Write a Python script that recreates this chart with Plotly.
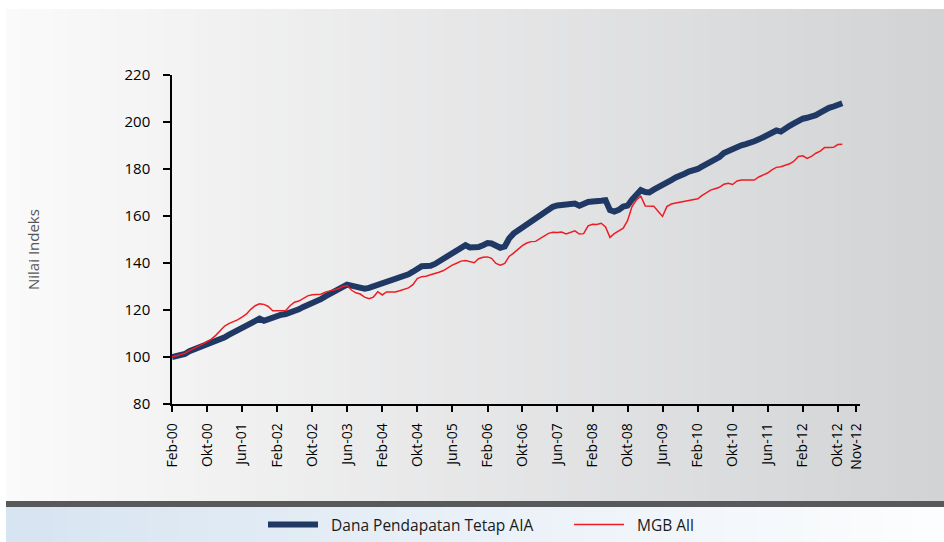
import plotly.graph_objects as go
import pandas as pd

# ---------------- data ----------------
dates = pd.date_range("2000-02-01", periods=154, freq="MS")

dana_aia = [
    100.0, 100.3, 100.6, 101.3, 102.5, 103.2, 103.6, 104.2, 105.0, 105.8,
    106.8, 107.6, 108.4, 109.4, 110.3, 111.3, 112.4, 113.2, 114.0, 115.2,
    116.3, 115.4, 116.2, 117.0, 117.6, 118.0, 118.3, 118.8, 119.4, 120.3,
    121.3, 122.0, 122.6, 123.7, 124.6, 125.8, 126.8, 128.0, 129.4, 130.3,
    130.8, 130.4, 130.0, 129.6, 129.1, 129.4, 130.0, 130.7, 131.4, 132.1,
    132.9, 133.4, 133.9, 134.6, 135.2, 136.3, 137.4, 138.6, 138.7, 138.8,
    139.6, 140.7, 141.8, 143.0, 144.4, 145.5, 146.8, 147.6, 146.6, 146.5,
    146.8, 147.6, 148.5, 148.3, 147.3, 146.5, 147.0, 150.4, 152.5, 153.8,
    155.0, 156.3, 157.5, 159.0, 160.5, 161.9, 163.0, 163.9, 164.5, 164.6,
    164.6, 164.9, 165.3, 164.4, 165.3, 166.0, 166.2, 166.1, 166.5, 166.7,
    162.5, 161.9, 162.6, 164.0, 164.4, 167.0, 169.5, 171.0, 170.2, 170.0,
    171.2, 172.2, 172.6, 174.0, 175.3, 176.4, 177.0, 178.0, 178.9, 179.3,
    180.0, 181.0, 182.0, 183.0, 184.0, 185.1, 186.8, 187.8, 188.7, 189.5,
    190.1, 190.6, 190.9, 191.8, 192.6, 193.6, 194.7, 195.6, 196.4, 195.9,
    197.5, 198.4, 199.4, 200.6, 201.4, 201.8, 202.3, 202.9, 204.0, 205.3,
    206.0, 206.6, 207.3, 208.0,
]

mgb_all = [
    100.0, 100.5, 101.0, 101.6, 102.7, 103.6, 104.4, 105.5, 106.6, 107.6,
    109.2, 111.2, 113.2, 114.2, 114.9, 115.8, 117.0, 118.2, 120.3, 121.8,
    122.6, 122.4, 121.5, 119.7, 119.7, 119.7, 119.8, 121.8, 123.3, 123.8,
    124.8, 126.0, 126.5, 126.6, 126.7, 127.6, 128.0, 128.5, 129.0, 130.0,
    130.4, 128.5, 127.3, 126.8, 125.5, 124.8, 125.5, 127.8, 126.4, 127.7,
    127.6, 127.7, 128.2, 128.8, 129.4, 130.8, 133.4, 134.2, 134.4, 135.0,
    135.5, 136.1, 136.8, 138.0, 139.1, 139.9, 140.8, 141.1, 140.6, 140.1,
    141.8, 142.4, 142.6, 142.0, 139.8, 139.1, 139.8, 142.8, 144.2, 145.8,
    147.4, 148.5, 149.1, 149.2, 150.2, 151.4, 152.6, 153.1, 153.0, 153.2,
    152.4, 153.0, 153.7, 152.3, 152.5, 155.8, 156.5, 156.4, 156.9, 155.3,
    150.9, 152.5, 153.6, 154.8, 158.0, 164.0, 166.8, 168.4, 164.3, 164.3,
    164.2, 162.0, 159.8, 164.0, 165.1, 165.5, 165.8, 166.3, 166.4, 167.0,
    167.3, 168.7, 170.0, 171.0, 171.6, 172.2, 173.5, 173.9, 173.4, 174.9,
    175.3, 175.3, 175.3, 175.3, 176.6, 177.4, 178.3, 179.6, 180.7, 181.0,
    181.5, 182.2, 183.3, 185.3, 185.6, 184.5, 185.4, 186.7, 187.6, 189.1,
    189.1, 189.2, 190.4, 190.5,
]

tick_labels = ["Feb-00", "Okt-00", "Jun-01", "Feb-02", "Okt-02", "Jun-03",
               "Feb-04", "Okt-04", "Jun-05", "Feb-06", "Okt-06", "Jun-07",
               "Feb-08", "Okt-08", "Jun-09", "Feb-10", "Okt-10", "Jun-11",
               "Feb-12", "Okt-12", "Nov-12"]
tick_dates = ["2000-02-01", "2000-10-01", "2001-06-01", "2002-02-01", "2002-10-01",
              "2003-06-01", "2004-02-01", "2004-10-01", "2005-06-01", "2006-02-01",
              "2006-10-01", "2007-06-01", "2008-02-01", "2008-10-01", "2009-06-01",
              "2010-02-01", "2010-10-01", "2011-06-01", "2012-02-01", "2012-10-01",
              "2013-02-06"]

series_names = ["\u00a0\u00a0Dana Pendapatan Tetap AIA", "\u00a0\u00a0MGB All"]
y_title = "Nilai Indeks"

# ---------------- layout geometry ----------------
W, H = 944, 542
L, R, T, B = 172, 860, 75, 404  # plot area in pixels


def px_x(p):
    return (p - L) / (R - L)


def px_y(p):
    return (B - p) / (B - T)


def lerp(c1, c2, t):
    return "rgb(%d,%d,%d)" % tuple(round(a + (b - a) * t) for a, b in zip(c1, c2))


shapes = []
n = 60
x0p, x1p = 6, 944
for i in range(n):
    a = x0p + (x1p - x0p) * i / n
    b = x0p + (x1p - x0p) * (i + 1) / n + 1
    shapes.append(dict(type="rect", xref="paper", yref="paper", layer="below",
                       x0=px_x(a), x1=px_x(b), y0=px_y(501), y1=px_y(9),
                       fillcolor=lerp((250, 250, 250), (210, 211, 213), i / (n - 1)),
                       line=dict(width=0)))
for i in range(n):
    a = x0p + (x1p - x0p) * i / n
    b = x0p + (x1p - x0p) * (i + 1) / n + 1
    shapes.append(dict(type="rect", xref="paper", yref="paper", layer="below",
                       x0=px_x(a), x1=px_x(b), y0=px_y(542), y1=px_y(507),
                       fillcolor=lerp((215, 228, 241), (252, 253, 254), i / (n - 1)),
                       line=dict(width=0)))
shapes.append(dict(type="rect", xref="paper", yref="paper", layer="below",
                   x0=px_x(6), x1=px_x(945), y0=px_y(507), y1=px_y(501),
                   fillcolor="#58595b", line=dict(width=0)))

fig = go.Figure()
fig.add_trace(go.Scatter(x=dates, y=dana_aia, mode="lines", name=series_names[0],
                         line=dict(color="#1f3864", width=6)))
fig.add_trace(go.Scatter(x=dates, y=mgb_all, mode="lines", name=series_names[1],
                         line=dict(color="#ee1d24", width=1.5)))

font_family = "Open Sans, Lato, DejaVu Sans, sans-serif"

fig.update_layout(
    width=W, height=H, autosize=False,
    margin=dict(l=L, r=W - R, t=T, b=H - B, pad=0),
    paper_bgcolor="white", plot_bgcolor="rgba(0,0,0,0)",
    font=dict(family=font_family, size=14, color="#111111"),
    shapes=shapes,
    showlegend=True,
    legend=dict(orientation="h", xref="container", yref="container",
                x=263 / W, y=1 - 525 / H, xanchor="left", yanchor="middle",
                bgcolor="rgba(0,0,0,0)", font=dict(size=15.5, color="#1a1a1a"),
                itemwidth=50, entrywidth=241, traceorder="normal"),
    annotations=[dict(text=y_title, xref="paper", yref="paper", x=px_x(33), y=px_y(250),
                      textangle=-90, showarrow=False, font=dict(size=15, color="#555555"),
                      xanchor="center", yanchor="middle")],
)

fig.update_xaxes(type="date", range=["2000-02-01", "2013-03-04"],
                 tickvals=tick_dates, ticktext=tick_labels, tickangle=-90,
                 ticks="outside", ticklen=6, tickwidth=1.5, tickcolor="black",
                 showline=True, linecolor="black", linewidth=1.5,
                 showgrid=False, zeroline=False, ticklabelstandoff=6,
                 tickfont=dict(size=14, color="#000000"))
fig.update_yaxes(range=[80, 220], dtick=20, tick0=80,
                 ticks="outside", ticklen=7, tickwidth=1.5, tickcolor="black",
                 showline=True, linecolor="black", linewidth=1.5,
                 showgrid=False, zeroline=False, ticklabelstandoff=10,
                 tickfont=dict(size=15, color="#000000"))

fig.write_html("out.html", config={"displayModeBar": False},
               post_script="document.body.style.margin='0px';")
